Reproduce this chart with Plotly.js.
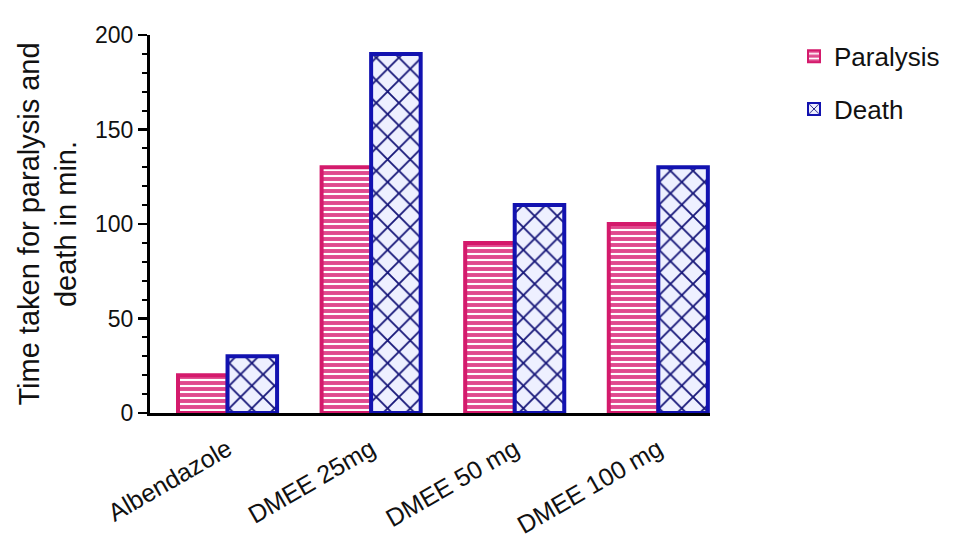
<!DOCTYPE html>
<html><head><meta charset="utf-8">
<script src="https://cdn.plot.ly/plotly-3.0.1.min.js"></script>
<style>html,body{margin:0;padding:0;background:#fff}#chart{width:970px;height:540px}</style>
</head><body><div id="chart"></div>
<script>
var categories = ["Albendazole", "DMEE 25mg", "DMEE 50 mg", "DMEE 100 mg"];
var paralysis = [20, 130, 90, 100];
var death = [30, 190, 110, 130];
var seriesNames = ["Paralysis", "Death"];
var yTickVals = [0, 50, 100, 150, 200];

var idx = categories.map(function(_, i){ return i; });

var traces = [
  {type:'bar', name:seriesNames[0], legendgroup:'a', x:idx, y:paralysis,
   marker:{color:'#d92f7d', line:{color:'#d41a6c', width:4},
     pattern:{shape:'-', fgcolor:'#ffffff', bgcolor:'#e04a8e', size:6, solidity:0.35, fillmode:'replace'}}},
  {type:'bar', name:seriesNames[1], legendgroup:'b', x:idx, y:death,
   marker:{color:'#eef0ff', line:{color:'#1212b0', width:4},
     pattern:{shape:'x', fgcolor:'#18187a', bgcolor:'#eef0ff', size:16, solidity:0.22, fillmode:'replace'}}}
];

var layout = {
  width:970, height:540,
  margin:{l:150, r:260, t:35, b:127},
  paper_bgcolor:'#fff', plot_bgcolor:'#fff',
  barmode:'group', bargap:0.31, bargroupgap:0,
  font:{family:'Arial, Liberation Sans, sans-serif', color:'#111'},
  showlegend:true,
  legend:{x:1.15, y:1.006, xanchor:'left', yanchor:'top', font:{size:26, color:'#111'},
    traceorder:'grouped', tracegroupgap:16, itemsizing:'constant'},
  xaxis:{range:[-0.54, 3.36], tickvals:idx, ticktext:categories, tickangle:-30,
    showline:true, linecolor:'#000', linewidth:3, ticks:'', showgrid:false, zeroline:false,
    ticklabelstandoff:9,
    tickfont:{size:25, color:'#111'}, fixedrange:true},
  yaxis:{range:[0,200], tickvals:yTickVals, ticks:'outside', ticklen:9, tickwidth:2.5, tickcolor:'#000',
    showline:true, linecolor:'#000', linewidth:3, showgrid:false, zeroline:false,
    minor:{dtick:10, ticks:'outside', ticklen:5, tickwidth:2, tickcolor:'#000'},
    tickfont:{size:23, color:'#111'},
    title:{text:'Time taken for paralysis and<br>death in min.', font:{size:29, color:'#111'}, standoff:10}}
};
Plotly.newPlot('chart', traces, layout, {displayModeBar:false, staticPlot:true});
</script></body></html>
